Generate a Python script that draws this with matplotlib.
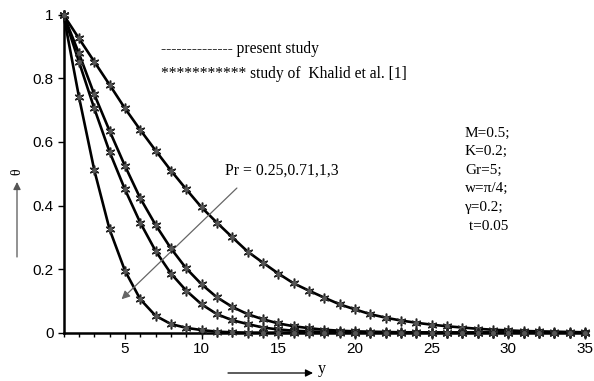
import matplotlib
matplotlib.use("Agg")
import matplotlib.pyplot as plt
from matplotlib.ticker import MultipleLocator

# data (theta vs y, one value per integer y)
y_vals = list(range(1, 36))
theta_pr025 = [1.0, 0.926, 0.853, 0.780, 0.706, 0.638, 0.573, 0.510, 0.451, 0.394,
               0.346, 0.300, 0.255, 0.220, 0.186, 0.155, 0.132, 0.110, 0.089, 0.073,
               0.058, 0.047, 0.038, 0.031, 0.025, 0.020, 0.016, 0.012, 0.009, 0.007,
               0.005, 0.004, 0.003, 0.002, 0.001]
theta_pr071 = [1.0, 0.879, 0.750, 0.635, 0.525, 0.423, 0.339, 0.265, 0.202, 0.152,
               0.111, 0.081, 0.058, 0.042, 0.029, 0.020, 0.014, 0.009, 0.006, 0.004,
               0.003, 0.002, 0.001, 0.001, 0.0, 0.0, 0.0, 0.0, 0.0, 0.0,
               0.0, 0.0, 0.0, 0.0, 0.0]
theta_pr1 = [1.0, 0.853, 0.706, 0.569, 0.451, 0.346, 0.257, 0.186, 0.132, 0.089,
             0.058, 0.039, 0.027, 0.016, 0.010, 0.006, 0.004, 0.002, 0.001, 0.0,
             0.0, 0.0, 0.0, 0.0, 0.0, 0.0, 0.0, 0.0, 0.0, 0.0,
             0.0, 0.0, 0.0, 0.0, 0.0]
theta_pr3 = [1.0, 0.743, 0.512, 0.325, 0.195, 0.105, 0.053, 0.027, 0.015, 0.008,
             0.003, 0.001, 0.0, 0.0, 0.0, 0.0, 0.0, 0.0, 0.0, 0.0,
             0.0, 0.0, 0.0, 0.0, 0.0, 0.0, 0.0, 0.0, 0.0, 0.0,
             0.0, 0.0, 0.0, 0.0, 0.0]
curves = [theta_pr025, theta_pr071, theta_pr1, theta_pr3]

params = ["M=0.5;", "K=0.2;", "Gr=5;", "w=\u03c0/4;", "\u03b3=0.2;", " t=0.05"]

serif = "Liberation Serif"
sans = "Liberation Sans"

fig = plt.figure(figsize=(5.94, 3.81), dpi=100)
ax = fig.add_axes([0.107, 0.127, 0.878, 0.834])

for th in curves:
    ax.plot(y_vals, th, color="black", lw=1.9, zorder=3, clip_on=False)
    # asterisk-like markers (present study / Khalid et al.)
    ax.plot(y_vals, th, ls="none", marker=(6, 2, 0), ms=7, mec="#222222",
            mew=1.1, zorder=4, clip_on=False)
    ax.plot(y_vals, th, ls="none", marker="o", ms=2.5, mfc="#555555",
            mec="#555555", zorder=4, clip_on=False)

ax.set_xlim(1, 35)
ax.set_ylim(0, 1)
ax.xaxis.set_minor_locator(MultipleLocator(1))
ax.set_yticks([0, 0.2, 0.4, 0.6, 0.8, 1.0])
ax.set_yticklabels(["0", "0.2", "0.4", "0.6", "0.8", "1"])
ax.set_xticks([5, 10, 15, 20, 25, 30, 35])
ax.set_xticklabels(["5", "10", "15", "20", "25", "30", "35"])

for side in ["top", "right"]:
    ax.spines[side].set_visible(False)
for side in ["left", "bottom"]:
    ax.spines[side].set_linewidth(1.8)
ax.tick_params(axis="both", which="major", length=4, width=1.0,
               labelsize=11, direction="out", pad=3)
ax.tick_params(axis="x", which="minor", length=3, width=1.0, direction="out")
for lab in ax.get_xticklabels() + ax.get_yticklabels():
    lab.set_fontfamily(sans)

# legend written as text lines
ax.text(0.187, 0.894, "-------------- present study", transform=ax.transAxes,
        fontsize=11.2, family=serif, va="center", ha="left")
ax.text(0.187, 0.815, "*********** study of  Khalid et al. [1]", transform=ax.transAxes,
        fontsize=11.2, family=serif, va="center", ha="left")

# parameter block
for i, p in enumerate(params):
    fig.text(465 / 594, 1 - (133 + i * 18.6) / 381, p, fontsize=11,
             family=serif, va="center", ha="left")

# Pr annotation with arrow
ax.annotate("", xy=(4.78, 0.105), xytext=(12.3, 0.455),
            arrowprops=dict(arrowstyle="-|>", color="#666666", lw=0.9,
                            mutation_scale=12, shrinkA=0, shrinkB=0))
ax.text(11.5, 0.51, "Pr = 0.25,0.71,1,3", fontsize=11.3, family=serif,
        va="center", ha="left")

# axis labels drawn as arrows
fig.patches.append(matplotlib.patches.FancyArrowPatch(
    (17 / 594, 1 - 257 / 381), (17 / 594, 1 - 182 / 381),
    transform=fig.transFigure, arrowstyle="-|>", mutation_scale=11,
    color="#555555", lw=0.9, shrinkA=0, shrinkB=0))
fig.text(16.5 / 594, 1 - 172 / 381, "\u03b8", rotation=90, fontsize=10,
         family=serif, ha="center", va="center")
fig.patches.append(matplotlib.patches.FancyArrowPatch(
    (228 / 594, 1 - 373 / 381), (313 / 594, 1 - 373 / 381),
    transform=fig.transFigure, arrowstyle="-|>", mutation_scale=11,
    color="black", lw=0.9, shrinkA=0, shrinkB=0))
fig.text(318 / 594, 1 - 369 / 381, "y", fontsize=11.5, family=serif,
         ha="left", va="center")

fig.savefig("out.png", dpi=100)
